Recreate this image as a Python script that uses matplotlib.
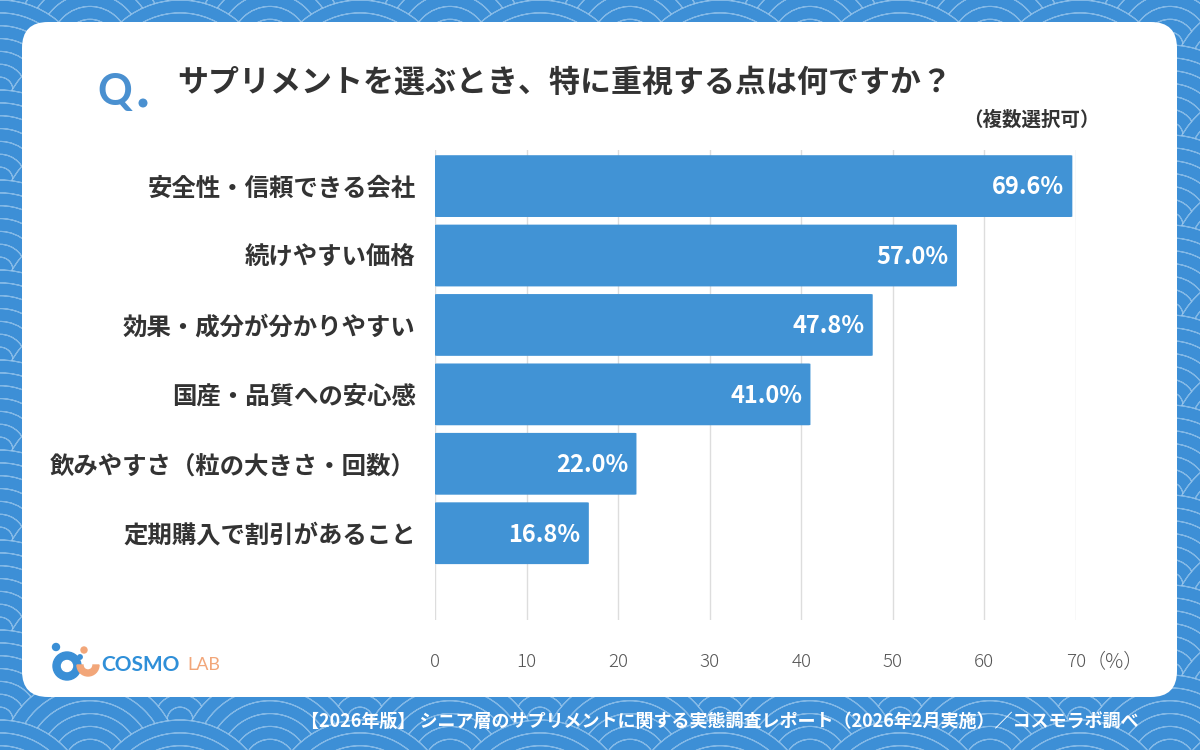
import matplotlib
matplotlib.use("Agg")
import matplotlib.pyplot as plt
from matplotlib.patches import FancyBboxPatch, Circle, Wedge
import matplotlib.transforms as mtransforms
import numpy as np

plt.rcParams['font.family'] = ['Noto Sans CJK JP', 'DejaVu Sans']

categories = ["安全性・信頼できる会社", "続けやすい価格", "効果・成分が分かりやすい",
              "国産・品質への安心感", "飲みやすさ（粒の大きさ・回数）", "定期購入で割引があること"]
values = [69.6, 57.0, 47.8, 41.0, 22.0, 16.8]
xticks = [0, 10, 20, 30, 40, 50, 60, 70]
title = "サプリメントを選ぶとき、特に重視する点は何ですか？"
subtitle = "（複数選択可）"
footer = "【2026年版】 シニア層のサプリメントに関する実態調査レポート（2026年2月実施）／コスモラボ調べ"

W, H = 1200, 750
fig = plt.figure(figsize=(12, 7.5), dpi=100)

# background with seigaiha pattern
bg = fig.add_axes([0, 0, 1, 1])
bg.set_xlim(0, W)
bg.set_ylim(0, H)
bg.axis('off')
bgc = '#3d8fd6'
bg.add_patch(plt.Rectangle((0, 0), W, H, color=bgc, zorder=0))
R = 90
rows = np.arange(H + R, -R, -R / 2.0)
z = 1
for j, yc in enumerate(rows):
    off = (j % 2) * R
    for xc in np.arange(-2 * R + off, W + 2 * R, 2 * R):
        bg.add_patch(Wedge((xc, yc), R, 0, 180, facecolor=bgc, edgecolor='none', zorder=z))
        for k in range(1, 8):
            r = R * k / 7.0
            bg.add_patch(Wedge((xc, yc), r, 0, 180, width=0.0001, facecolor='none',
                               edgecolor='#a8cff0', linewidth=0.8, alpha=0.65, zorder=z + 0.1))
    z += 1

# white card
card = FancyBboxPatch((22 + 26, 53 + 26), 1155 - 52, 675 - 52,
                      boxstyle="round,pad=26", facecolor='white', edgecolor='none', zorder=z + 5)
bg.add_patch(card)
zt = z + 10

# title
bg.text(97, H - 92, "Q", fontsize=31, fontweight='bold', color='#4a90d0', va='center', ha='left',
        family=['Lato', 'DejaVu Sans'], zorder=zt)
bg.add_patch(Circle((143, H - 103), 3.8, color='#4a90d0', zorder=zt))
bg.text(177, H - 83, title, fontsize=22.3, fontweight='bold', color='#333333', va='center', ha='left', zorder=zt)
bg.text(1100, H - 120, subtitle, fontsize=14, fontweight='bold', color='#333333', va='center', ha='right', zorder=zt)

# footer
bg.text(720, H - 721, footer, fontsize=13, fontweight='bold', color='white', va='center', ha='center', zorder=zt)

# logo
bg.add_patch(Circle((67, H - 666), 14, color='#3a8fd6', zorder=zt))
bg.add_patch(Circle((67, H - 666), 5.5, color='white', zorder=zt))
bg.add_patch(Circle((56, H - 647), 3.5, color='#3a8fd6', zorder=zt))
bg.add_patch(Wedge((88, H - 665), 11, 180, 360, width=6, color='#f2a679', zorder=zt))
bg.add_patch(Circle((84, H - 650), 3, color='#f2a679', zorder=zt))
bg.add_patch(Circle((80, H - 657), 2.2, color='#3a8fd6', zorder=zt))
bg.text(101, H - 665, "COSMO", fontsize=15, color='#2f8fd8', va='center', ha='left',
        family=['Lato', 'DejaVu Sans'], fontweight='bold', zorder=zt)
bg.text(187, H - 665, "LAB", fontsize=13, color='#f2a679', va='center', ha='left',
        family=['Lato', 'DejaVu Sans'], zorder=zt)

# chart axes
x0, x1 = 435, 1076
ytop, ybot = 150, 620
ax = fig.add_axes([x0 / W, 1 - ybot / H, (x1 - x0) / W, (ybot - ytop) / H])
ax.set_zorder(20)
ax.patch.set_alpha(0)
ax.set_xlim(0, 70)
ax.set_ylim(6.25, -0.52)
ypos = np.arange(len(categories))
bars = ax.barh(ypos, values, height=0.89, color='#4193d5', zorder=3)
for b in bars:
    b.set_visible(False)
    bb = FancyBboxPatch((b.get_x(), b.get_y()), b.get_width(), b.get_height(),
                        boxstyle="round,pad=0,rounding_size=0.25", mutation_aspect=0.03,
                        facecolor='#4193d5', edgecolor='none', zorder=3)
    ax.add_patch(bb)
for y, v in zip(ypos, values):
    ax.text(v - 0.9, y + 0.02, f"{v:.1f}%", color='white', fontsize=17, fontweight='bold',
            ha='right', va='center', zorder=4)
ax.set_xticks(xticks)
ax.set_xticklabels([str(t) for t in xticks])
ax.xaxis.grid(True, color='#dddddd', linewidth=1, zorder=0)
ax.set_yticks(ypos)
ax.set_yticklabels(categories)
shift = mtransforms.ScaledTranslation(0, 8 / 100, fig.dpi_scale_trans)
for lab in ax.get_yticklabels():
    lab.set_fontsize(17.6)
    lab.set_fontweight('bold')
    lab.set_color('#333333')
    lab.set_transform(lab.get_transform() + shift)
for lab in ax.get_xticklabels():
    lab.set_fontsize(13.5)
    lab.set_color('#555555')
    lab.set_fontweight('light')
ax.tick_params(axis='y', length=0, pad=14)
ax.tick_params(axis='x', length=0, pad=24)
for s in ax.spines.values():
    s.set_visible(False)
bg.text(1086, H - 663, "（%）", fontsize=14.5, color='#555555', va='center', ha='left',
        fontweight='light', zorder=zt)

fig.savefig("out.png", dpi=100)
